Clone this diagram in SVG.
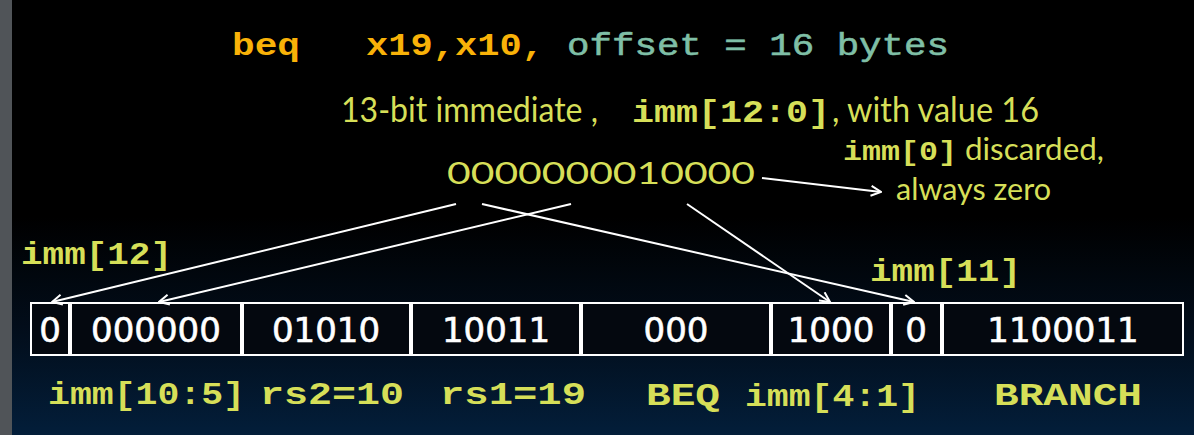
<svg xmlns="http://www.w3.org/2000/svg" width="1194" height="435" viewBox="0 0 1194 435">
  <defs>
    <linearGradient id="bg" x1="0" y1="0" x2="0" y2="435" gradientUnits="userSpaceOnUse">
      <stop offset="0" stop-color="#000000"/>
      <stop offset="0.5" stop-color="#000000"/>
      <stop offset="0.75" stop-color="#020d1a"/>
      <stop offset="1" stop-color="#031e3a"/>
    </linearGradient>
    <marker id="arr" viewBox="0 0 12 12" refX="11" refY="6" markerWidth="12" markerHeight="12" markerUnits="userSpaceOnUse" orient="auto">
      <path d="M1,1 L11,6 L1,11" fill="none" stroke="#ffffff" stroke-width="2" stroke-linejoin="miter"/>
    </marker>
    <style>
      .mono { font-family: "Liberation Mono", "Courier New", monospace; font-weight: bold; }
      .sans { font-family: "Lato", "Open Sans", sans-serif; }
      .y { fill: #d6df58; }
      .org { fill: #f9b208; }
      .teal { fill: #7fbfa6; }
      .cell rect { fill: #04080f; stroke: #ffffff; stroke-width: 2; }
      .cell text { font-family: "DejaVu Sans", "Verdana", sans-serif; font-size: 34px; fill: #ffffff; stroke: #ffffff; stroke-width: 0.6; text-anchor: middle; }
      .conn line { stroke: #ffffff; stroke-width: 2; marker-end: url(#arr); }
    </style>
  </defs>

  <rect x="0" y="0" width="1194" height="435" fill="url(#bg)"/>
  <rect x="0" y="0" width="12" height="435" fill="#505458"/>

  <g id="title">
    <text class="mono org" x="232" y="55" font-size="32" textLength="68" lengthAdjust="spacingAndGlyphs">beq</text>
    <text class="mono org" x="366" y="55" font-size="32" textLength="178" lengthAdjust="spacingAndGlyphs">x19,x10,</text>
    <text class="mono teal" x="567" y="55" font-size="32" style="font-weight:normal" stroke="#7fbfa6" stroke-width="0.6" textLength="382" lengthAdjust="spacingAndGlyphs">offset = 16 bytes</text>
  </g>

  <g id="caption">
    <text class="sans y" x="341" y="122" font-size="34" textLength="257" lengthAdjust="spacingAndGlyphs">13-bit immediate ,</text>
    <text class="mono y" x="632" y="122" font-size="31" textLength="198" lengthAdjust="spacingAndGlyphs">imm[12:0]</text>
    <text class="sans y" x="832" y="122" font-size="34" textLength="207" lengthAdjust="spacingAndGlyphs">, with value 16</text>
  </g>

  <g id="discard-note">
    <text class="mono y" x="843" y="160" font-size="27" textLength="114" lengthAdjust="spacingAndGlyphs">imm[0]</text>
    <text class="sans y" x="965" y="160" font-size="31" textLength="139" lengthAdjust="spacingAndGlyphs">discarded,</text>
    <text class="sans y" x="896" y="200" font-size="31" textLength="155" lengthAdjust="spacingAndGlyphs">always zero</text>
  </g>

  <g id="immediate-value">
    <text class="sans y" x="447" y="184" font-size="31" textLength="308" lengthAdjust="spacingAndGlyphs">0000000010000</text>
  </g>

  <g id="label-imm12">
    <text class="mono y" x="21" y="264" font-size="31" textLength="151" lengthAdjust="spacingAndGlyphs">imm[12]</text>
  </g>
  <g id="label-imm11">
    <text class="mono y" x="870" y="281" font-size="31" textLength="151" lengthAdjust="spacingAndGlyphs">imm[11]</text>
  </g>

  <g id="cell-imm12" class="cell">
    <rect x="31" y="303" width="38" height="52"/>
    <text x="50" y="342">0</text>
  </g>
  <g id="cell-imm10-5" class="cell">
    <rect x="71" y="303" width="170" height="52"/>
    <text x="156" y="342">000000</text>
  </g>
  <g id="cell-rs2" class="cell">
    <rect x="243" y="303" width="167" height="52"/>
    <text x="326" y="342">01010</text>
  </g>
  <g id="cell-rs1" class="cell">
    <rect x="412" y="303" width="168" height="52"/>
    <text x="496" y="342">10011</text>
  </g>
  <g id="cell-funct3" class="cell">
    <rect x="582" y="303" width="188" height="52"/>
    <text x="676" y="342">000</text>
  </g>
  <g id="cell-imm4-1" class="cell">
    <rect x="772" y="303" width="118" height="52"/>
    <text x="831" y="342">1000</text>
  </g>
  <g id="cell-imm11" class="cell">
    <rect x="892" y="303" width="49" height="52"/>
    <text x="916" y="342">0</text>
  </g>
  <g id="cell-opcode" class="cell">
    <rect x="943" y="303" width="240" height="52"/>
    <text x="1063" y="342">1100011</text>
  </g>

  <g id="field-labels">
    <text class="mono y" x="48" y="404" font-size="31" textLength="197" lengthAdjust="spacingAndGlyphs">imm[10:5]</text>
    <text class="mono y" x="260" y="404" font-size="31" textLength="144" lengthAdjust="spacingAndGlyphs">rs2=10</text>
    <text class="mono y" x="440" y="404" font-size="31" textLength="146" lengthAdjust="spacingAndGlyphs">rs1=19</text>
    <text class="mono y" x="646" y="405" font-size="31" textLength="74" lengthAdjust="spacingAndGlyphs">BEQ</text>
    <text class="mono y" x="745" y="406" font-size="31" textLength="175" lengthAdjust="spacingAndGlyphs">imm[4:1]</text>
    <text class="mono y" x="994" y="405" font-size="31" textLength="148" lengthAdjust="spacingAndGlyphs">BRANCH</text>
  </g>

  <g id="connectors" class="conn">
    <line x1="456" y1="204" x2="52" y2="302"/>
    <line x1="571" y1="204" x2="159" y2="302"/>
    <line x1="482" y1="204" x2="914" y2="302"/>
    <line x1="687" y1="204" x2="830" y2="302"/>
    <line x1="762" y1="178" x2="881" y2="192"/>
  </g>
</svg>
